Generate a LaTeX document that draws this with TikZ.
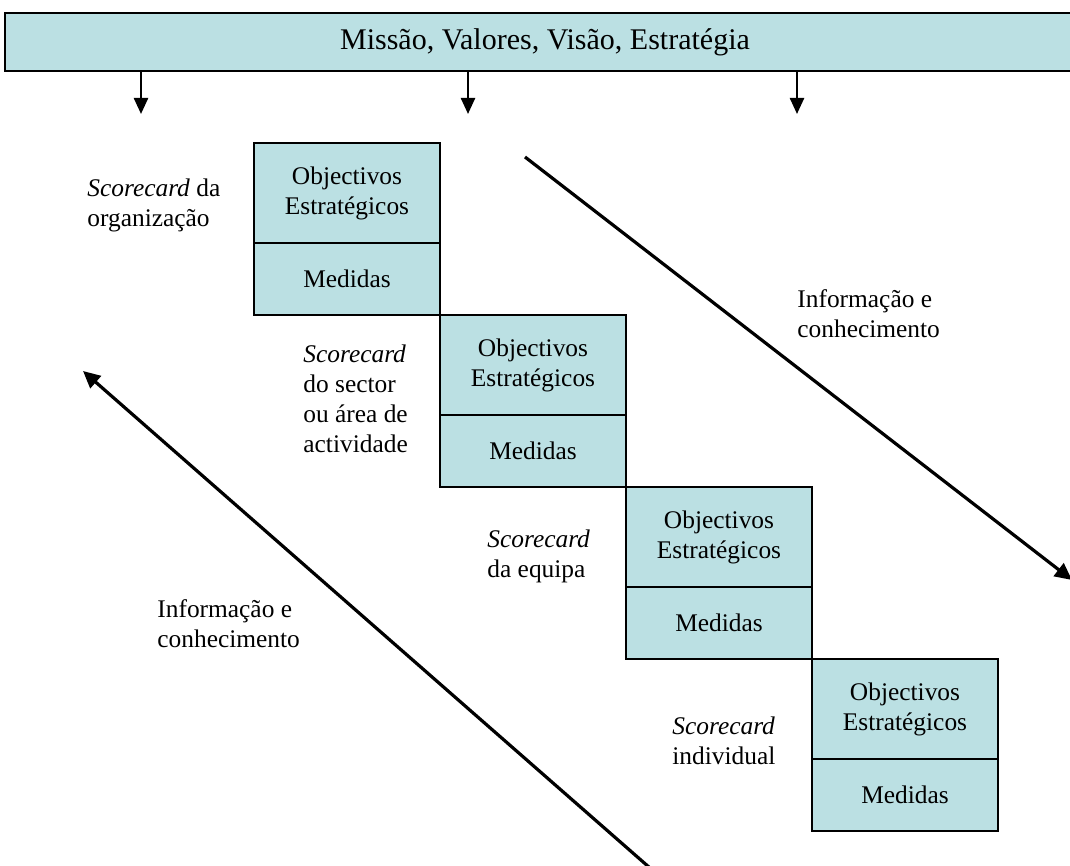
\documentclass[tikz,border=0pt]{standalone}
\usepackage{fontspec}
\setmainfont{Liberation Serif}
\usetikzlibrary{arrows.meta}
\definecolor{cardfill}{RGB}{187,224,227}
\begin{document}
\begin{tikzpicture}[x=0.5pt,y=-0.5pt,
  txt/.style={font=\fontsize{12.7pt}{15pt}\selectfont},
  lbl/.style={txt,inner sep=0pt,align=left,anchor=base west},
  card/.style={draw,line width=1pt,fill=cardfill,minimum width=93pt,inner sep=0pt,outer sep=0pt,txt,align=center},
  cardtop/.style={card,minimum height=50pt},
  cardbot/.style={card,minimum height=36pt},
  downarrow/.style={line width=1.2pt,-{Triangle[length=8pt,width=7pt]}},
  flowarrow/.style={line width=1.6pt,-{Triangle[length=8.5pt,width=8pt]}}]
\useasboundingbox (0,0) rectangle (1070,866);
\clip (0,0) rectangle (1070,866);

% banner
\node[draw,line width=1pt,fill=cardfill,minimum width=540pt,minimum height=29pt,inner sep=0pt,outer sep=0pt,
      font=\fontsize{15pt}{18pt}\selectfont] (banner) at (545,42) {Missão, Valores, Visão, Estratégia};

\coordinate (d1) at (141,114);
\coordinate (d2) at (468,114);
\coordinate (d3) at (797,114);
\draw[downarrow] (banner.south -| d1) -- (d1);
\draw[downarrow] (banner.south -| d2) -- (d2);
\draw[downarrow] (banner.south -| d3) -- (d3);

% scorecards, stepping down to the right
\node[cardtop] (o1) at (347,193) {Objectivos\\Estratégicos};
\node[cardbot,anchor=north] (m1) at (o1.south) {Medidas};
\node[cardtop,anchor=north west] (o2) at (m1.south east) {Objectivos\\Estratégicos};
\node[cardbot,anchor=north] (m2) at (o2.south) {Medidas};
\node[cardtop,anchor=north west] (o3) at (m2.south east) {Objectivos\\Estratégicos};
\node[cardbot,anchor=north] (m3) at (o3.south) {Medidas};
\node[cardtop,anchor=north west] (o4) at (m3.south east) {Objectivos\\Estratégicos};
\node[cardbot,anchor=north] (m4) at (o4.south) {Medidas};

% scorecard labels (placed by the baseline of their last line)
\node[lbl] (l1) at (87,227) {\textit{Scorecard} da\\organização};
\node[lbl] (l2) at (303,452) {\textit{Scorecard}\\do sector\\ou área de\\actividade};
\node[lbl] (l3) at (487,577) {\textit{Scorecard}\\da equipa};
\node[lbl] (l4) at (672,764) {\textit{Scorecard}\\individual};

% information flows
\node[lbl] (i1) at (797,337) {Informação e\\conhecimento};
\node[lbl] (i2) at (157,647) {Informação e\\conhecimento};

\coordinate (a1s) at (525,157);
\coordinate (a1e) at (1072,580);
\draw[flowarrow] (a1s) -- (a1e);
\coordinate (a2s) at (650,868);
\coordinate (a2e) at (83,371);
\draw[flowarrow] (a2s) -- (a2e);
\end{tikzpicture}
\end{document}
